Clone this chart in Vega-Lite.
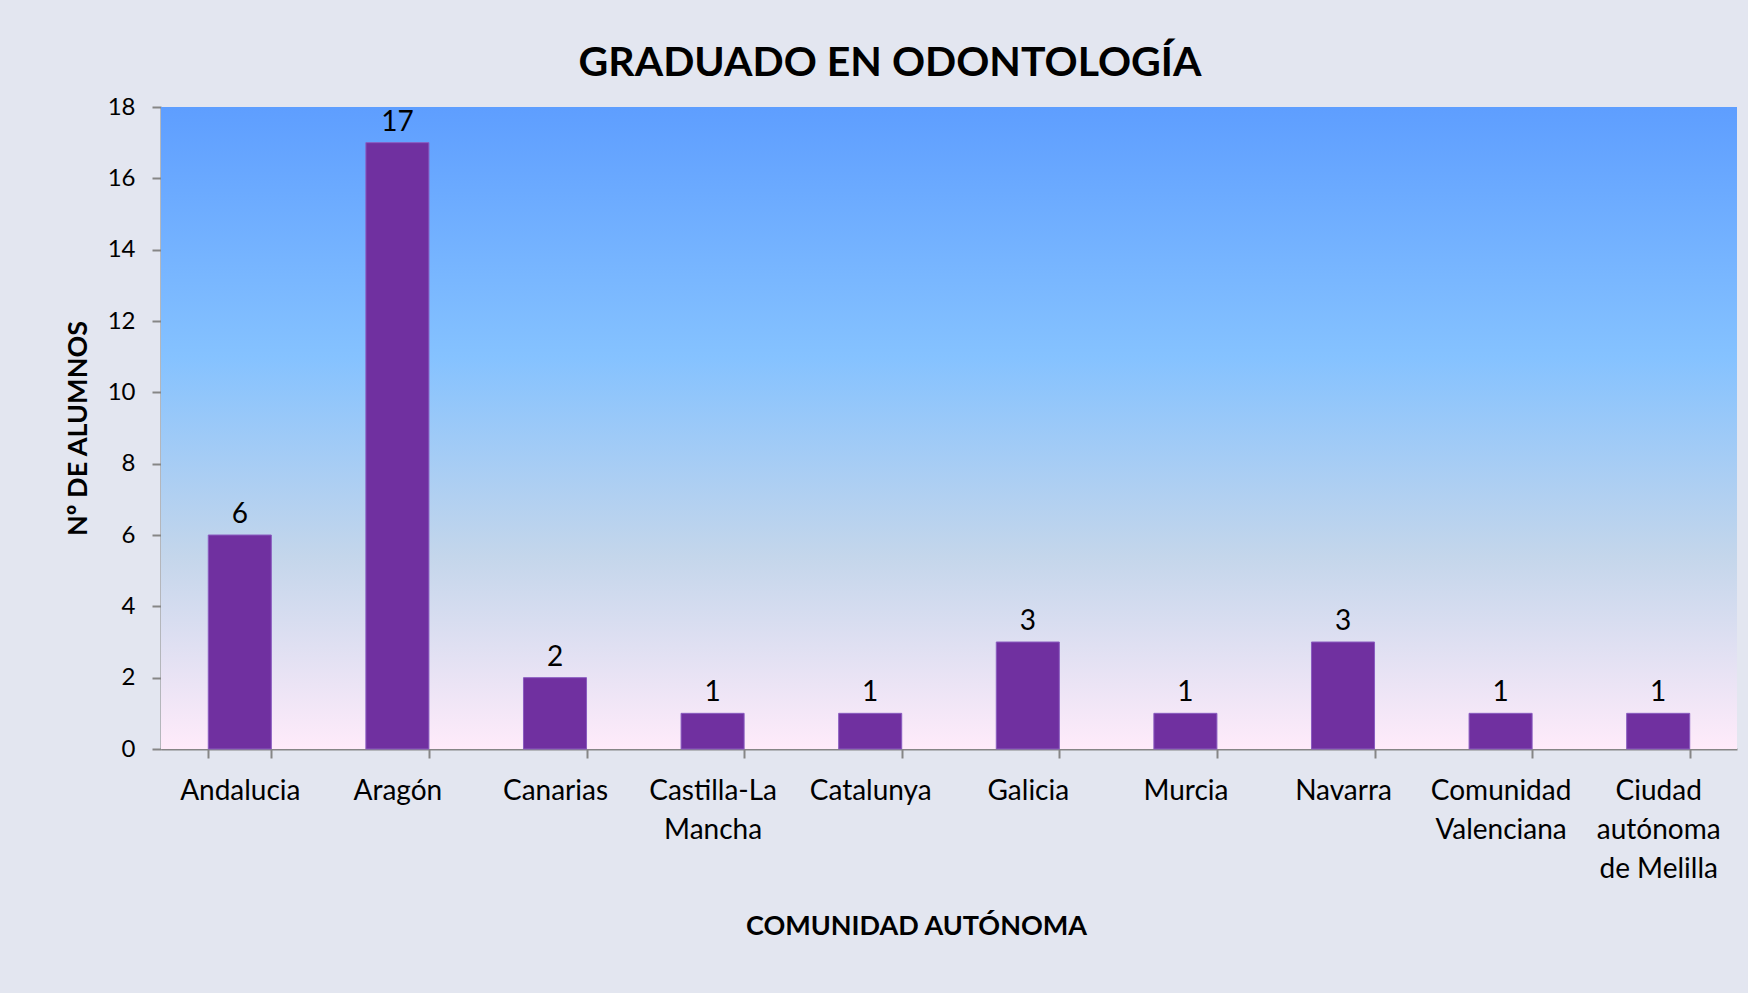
{
  "$schema": "https://vega.github.io/schema/vega-lite/v6.json",
  "width": 1576,
  "height": 642,
  "autosize": "none",
  "padding": {"left": 161, "top": 107, "right": 11, "bottom": 244},
  "background": "#E3E6F0",
  "title": {
    "text": "GRADUADO EN ODONTOLOGÍA",
    "font": "Lato",
    "fontSize": 41,
    "fontWeight": "bold",
    "color": "#000000",
    "anchor": "middle",
    "dx": -59,
    "dy": 53,
    "baseline": "alphabetic",
    "offset": 31
  },
  "config": {
    "view": {"stroke": null},
    "axis": {
      "domainColor": "#868686",
      "domainWidth": 2,
      "tickColor": "#868686",
      "tickWidth": 2,
      "tickSize": 9,
      "labelFont": "Lato",
      "labelColor": "#000000",
      "titleFont": "Lato",
      "titleFontWeight": "bold",
      "titleColor": "#000000",
      "titleFontSize": 27,
      "grid": false,
      "zindex": 1
    }
  },
  "data": {
    "values": [
      {"comunidad": "Andalucia", "alumnos": 6},
      {"comunidad": "Aragón", "alumnos": 17},
      {"comunidad": "Canarias", "alumnos": 2},
      {"comunidad": "Castilla-La Mancha", "alumnos": 1},
      {"comunidad": "Catalunya", "alumnos": 1},
      {"comunidad": "Galicia", "alumnos": 3},
      {"comunidad": "Murcia", "alumnos": 1},
      {"comunidad": "Navarra", "alumnos": 3},
      {"comunidad": "Comunidad Valenciana", "alumnos": 1},
      {"comunidad": "Ciudad autónoma de Melilla", "alumnos": 1}
    ]
  },
  "layer": [
    {
      "data": {"values": [{"alumnos": 0, "tope": 18}]},
      "mark": {
        "type": "rect",
        "color": {
          "gradient": "linear",
          "x1": 0, "y1": 0, "x2": 0, "y2": 1,
          "stops": [
            {"offset": 0, "color": "#5E9EFF"},
            {"offset": 0.39, "color": "#85C2FF"},
            {"offset": 0.7, "color": "#C4D6EB"},
            {"offset": 1, "color": "#FFEBFA"}
          ]
        }
      },
      "encoding": {
        "y": {"field": "alumnos", "type": "quantitative", "title": "Nº DE ALUMNOS", "scale": {"domain": [0, 18], "nice": false}},
        "y2": {"field": "tope"}
      }
    },
    {
      "mark": {"type": "bar", "color": "#7030A0", "stroke": "#8A5CC0", "strokeWidth": 1},
      "encoding": {
        "x": {
          "field": "comunidad",
          "type": "nominal",
          "sort": null,
          "title": "COMUNIDAD AUTÓNOMA",
          "scale": {"paddingInner": 0.6, "paddingOuter": 0.3},
          "axis": {
            "labelFontSize": 28,
            "labelPadding": 19,
            "labelAngle": 0,
            "labelBaseline": "top",
            "labelLineHeight": 39,
            "tickBand": "extent",
            "labelExpr": "datum.label == 'Castilla-La Mancha' ? ['Castilla-La', 'Mancha'] : datum.label == 'Comunidad Valenciana' ? ['Comunidad', 'Valenciana'] : datum.label == 'Ciudad autónoma de Melilla' ? ['Ciudad', 'autónoma', 'de Melilla'] : datum.label",
            "titleX": 755,
            "titleY": 185,
            "titleBaseline": "alphabetic"
          }
        },
        "y": {
          "field": "alumnos",
          "type": "quantitative",
          "title": "Nº DE ALUMNOS",
          "scale": {"domain": [0, 18], "nice": false},
          "axis": {
            "values": [0, 2, 4, 6, 8, 10, 12, 14, 16, 18],
            "labelFontSize": 24,
            "labelPadding": 17,
            "titlePadding": 15
          }
        }
      }
    },
    {
      "mark": {"type": "text", "font": "Lato", "fontSize": 28, "color": "#000000", "baseline": "alphabetic", "dy": -12},
      "encoding": {
        "x": {"field": "comunidad", "type": "nominal", "sort": null, "title": "COMUNIDAD AUTÓNOMA"},
        "y": {"field": "alumnos", "type": "quantitative", "title": "Nº DE ALUMNOS"},
        "text": {"field": "alumnos", "type": "quantitative"}
      }
    }
  ]
}
